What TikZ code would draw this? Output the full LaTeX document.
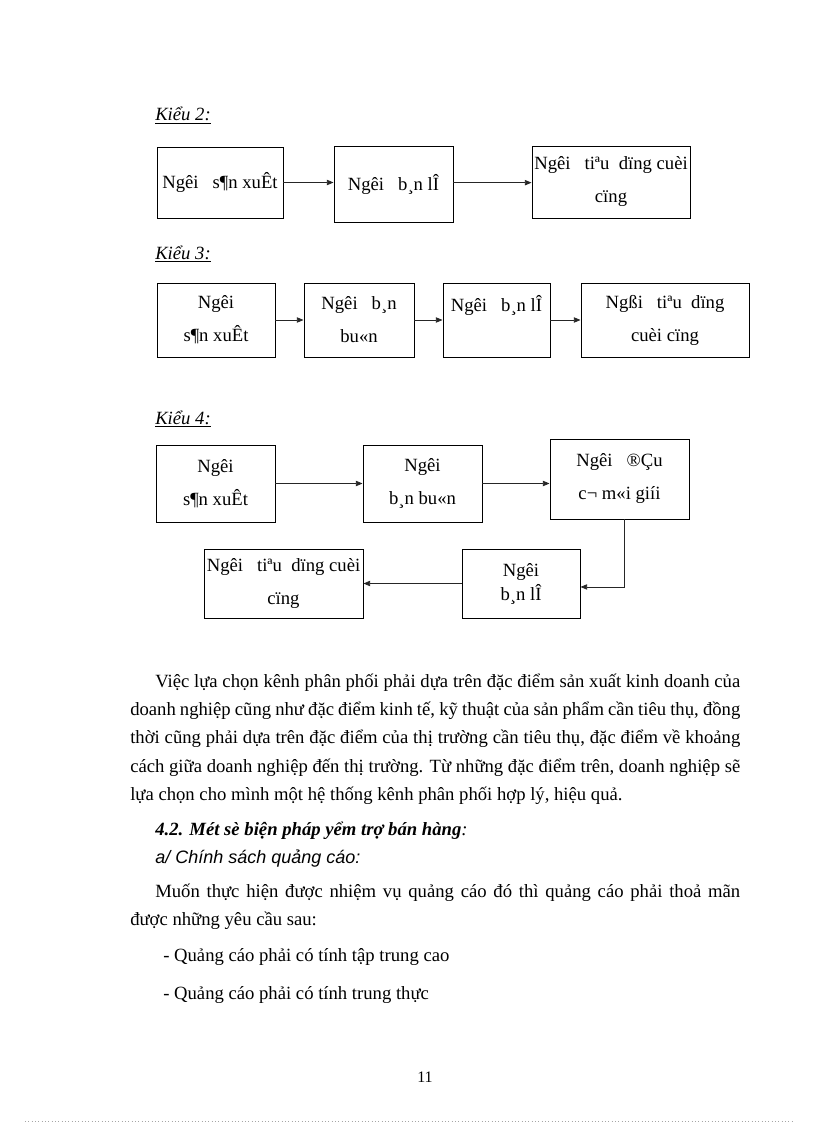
\documentclass[tikz,border=0pt]{standalone}
\usepackage{fontspec}
\setmainfont{Liberation Serif}
\newfontfamily\sansit{Liberation Sans}
\usepackage{tikz}
\usetikzlibrary{arrows.meta, positioning}

\begin{document}
\begin{tikzpicture}[x=0.75pt, y=-0.75pt,
    % Styles
    chbox/.style={
        rectangle,
        draw=black,
        line width=0.7pt,
        inner sep=0pt,
        align=center,
        font=\fontsize{14}{24.75}\selectfont
    },
    flow/.style={
        draw=black!85,
        line width=0.6pt,
        -{Triangle[length=5pt, width=4pt]}
    },
    kieu/.style={
        anchor=base west,
        inner sep=0pt,
        font=\fontsize{14}{17}\selectfont\itshape
    },
    bodytext/.style={
        anchor=base west,
        inner sep=0pt,
        text width=457.5pt,
        align=justify,
        font=\fontsize{14}{21.3}\selectfont,
        execute at begin node={\spaceskip=0.25em plus 0.25em minus 0.12em\relax}
    },
    plainline/.style={
        anchor=base west,
        inner sep=0pt,
        font=\fontsize{14}{17}\selectfont
    }
]
\useasboundingbox (0,0) rectangle (816,1123);

% Kieu 2
\node[kieu] (lab2) at (155,121) {\underline{Kiểu 2:}};
\node[chbox, minimum width=94.5pt, minimum height=53.25pt] (k2prod) at (220,182.5) {Ngêi~~~s¶n xuÊt};
\node[chbox, minimum width=89.25pt, minimum height=57pt] (k2ret) at (393.5,184) {Ngêi~~~b¸n lÎ};
\node[chbox, minimum width=118.5pt, minimum height=54pt] (k2cons) at (611,182) {Ngêi~~~tiªu~~dïng cuèi\\cïng};
\draw[flow] (k2prod.east) -- (k2prod.east -| k2ret.west);
\draw[flow] ([yshift=1pt]k2ret.east) -- ([yshift=1pt]k2ret.east -| k2cons.west);

% Kieu 3
\node[kieu] (lab3) at (155,259) {\underline{Kiểu 3:}};
\node[chbox, minimum width=88.5pt, minimum height=55.5pt] (k3prod) at (216,320) {Ngêi\\s¶n xuÊt};
\node[chbox, minimum width=82.5pt, minimum height=55.5pt] (k3whole) at (359,320) {Ngêi~~~b¸n\\bu«n};
\node[chbox, minimum width=80.25pt, minimum height=55.5pt] (k3ret) at (496.5,320) {Ngêi~~~b¸n lÎ\\\mbox{}};
\node[chbox, minimum width=126pt, minimum height=55.5pt] (k3cons) at (665,320) {Ngßi~~~tiªu~~dïng\\cuèi cïng};
\draw[flow] (k3prod) -- (k3whole);
\draw[flow] (k3whole) -- (k3ret);
\draw[flow] (k3ret) -- (k3cons);

% Kieu 4
\node[kieu] (lab4) at (155,424) {\underline{Kiểu 4:}};
\node[chbox, minimum width=89.25pt, minimum height=57.75pt] (k4prod) at (215.5,483.5) {Ngêi\\s¶n xuÊt};
\node[chbox, minimum width=89.25pt, minimum height=57.75pt] (k4whole) at (422.5,483.5) {Ngêi\\b¸n bu«n};
\node[chbox, minimum width=104.25pt, minimum height=60pt] (k4broker) at (619.5,479) {Ngêi~~~®Çu\\c¬ m«i~giíi};
\node[chbox, minimum width=119.25pt, minimum height=51.75pt] (k4cons) at (283.5,583.5) {Ngêi~~~tiªu~~dïng cuèi\\cïng};
\node[chbox, minimum width=88.5pt, minimum height=51.75pt, font=\fontsize{14}{18}\selectfont] (k4ret) at (521,583.5) {Ngêi\\b¸n lÎ};
\draw[flow] (k4prod) -- (k4whole);
\draw[flow] (k4whole.east) -- (k4whole.east -| k4broker.west);
\draw[flow] ([xshift=3.4pt]k4broker.south) |- ([yshift=-2.6pt]k4ret.east);
\draw[flow] (k4ret) -- (k4cons);

% text below the diagrams
\node[bodytext] (para) at (130,687) {\hspace*{18.75pt}Việc lựa chọn kênh phân phối phải dựa trên đặc điểm sản xuất kinh doanh của\linebreak
    doanh nghiệp cũng như đặc điểm kinh tế, kỹ thuật của sản phẩm cần tiêu thụ, đồng\linebreak
    thời cũng phải dựa trên đặc điểm của thị trường cần tiêu thụ, đặc điểm về khoảng\linebreak
    cách giữa doanh nghiệp đến thị trường. Từ những đặc điểm trên, doanh nghiệp sẽ\linebreak
    lựa chọn cho mình một hệ thống kênh phân phối hợp lý, hiệu quả.};
\node[plainline] (head) at (155,835) {\textbf{\textit{4.2. Mét sè biện pháp yểm trợ bán hàng}}\textit{:}};
\node[plainline, font=\fontsize{13.5}{16}\sansit\itshape] (sub) at (155,863) {a/ Chính sách quảng cáo:};
\node[bodytext] (para2) at (130,897) {\hspace*{18.75pt}Muốn thực hiện được nhiệm vụ quảng cáo đó thì quảng cáo phải thoả mãn\linebreak
    được những yêu cầu sau:};
\node[plainline] (item1) at (163,961) {- Quảng cáo phải có tính tập trung cao};
\node[plainline] (item2) at (163,999) {- Quảng cáo phải có tính trung thực};

% page foot
\node[anchor=base, inner sep=0pt, font=\fontsize{12}{14}\selectfont] (pageno) at (425,1082) {11};
\draw[black!35, dotted, line width=0.5pt] (25,1121) -- (792,1121);

\end{tikzpicture}
\end{document}
